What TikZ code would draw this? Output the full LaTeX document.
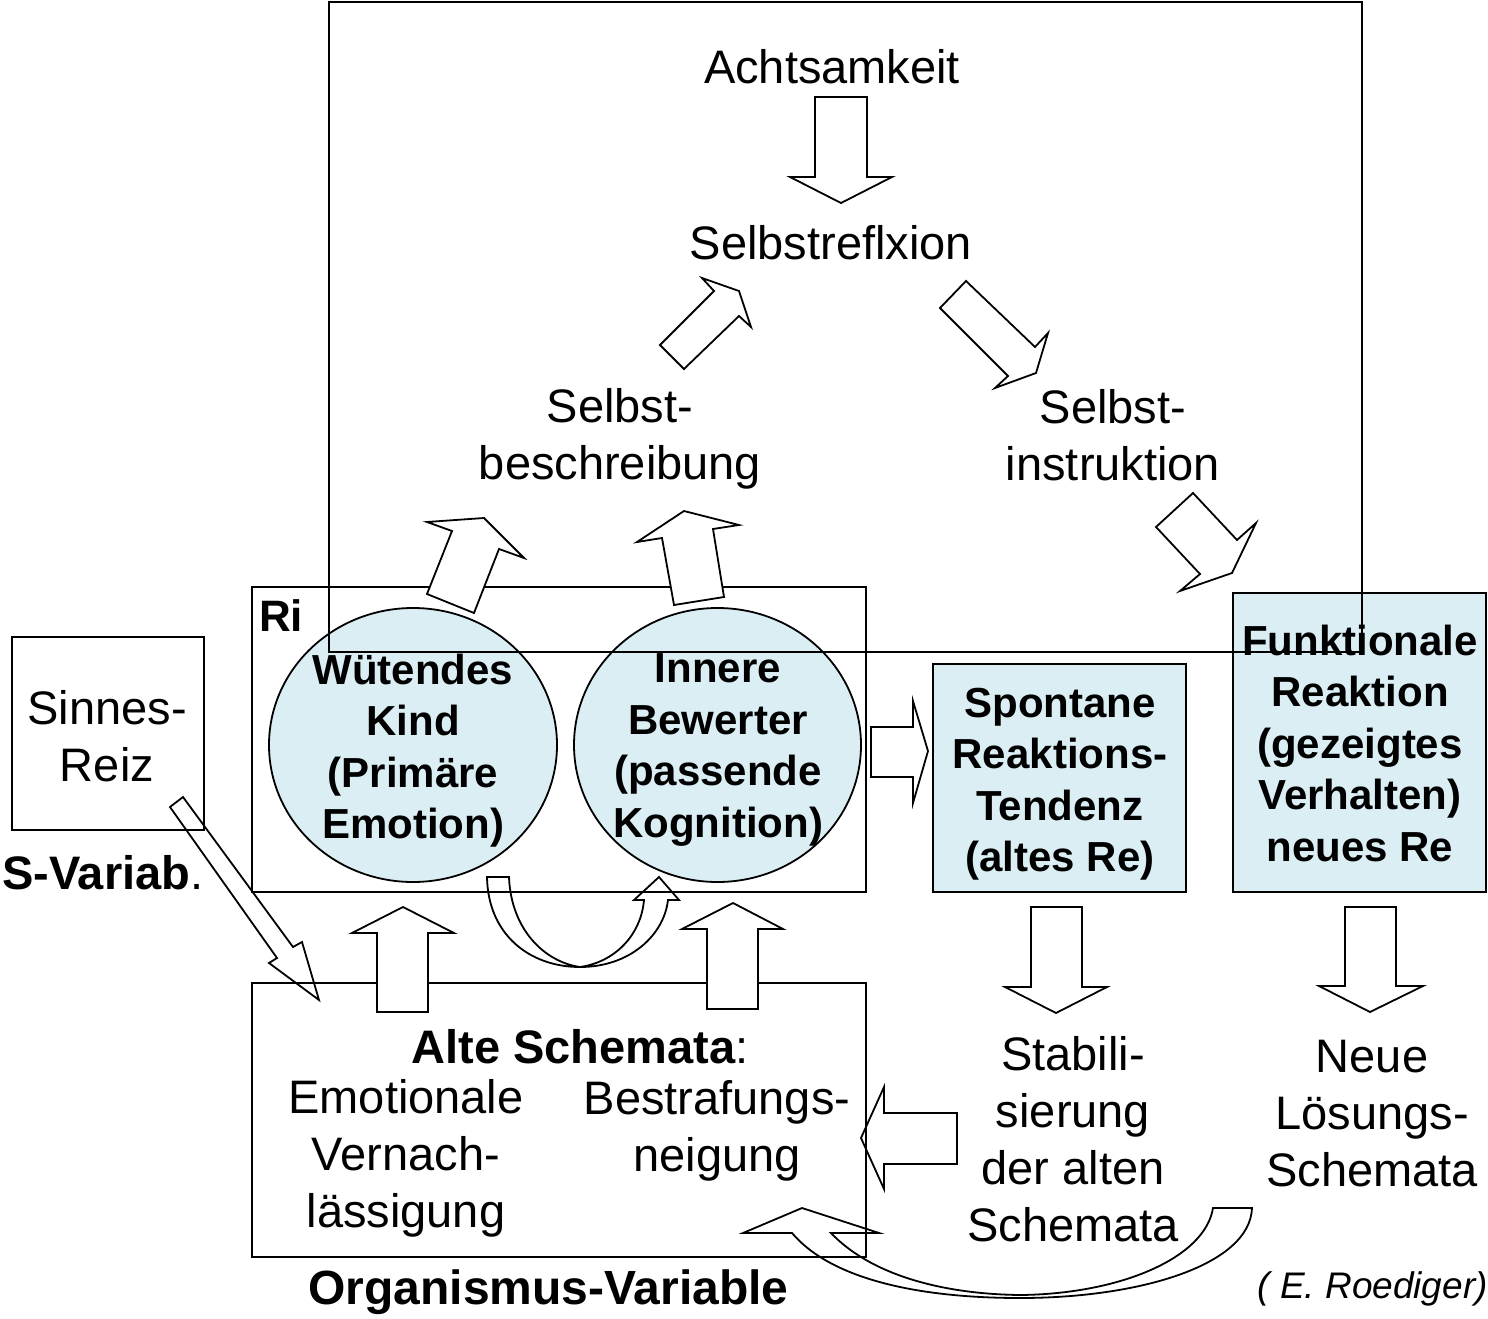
\documentclass[tikz,border=0pt]{standalone}
\usepackage{fontspec}
\setmainfont{Liberation Sans}
\usetikzlibrary{shapes.geometric}
\definecolor{lblue}{RGB}{218,238,243}
\tikzset{
  ln/.style={line width=1.8pt, line join=miter},
  blk/.style={ln, draw, fill=white},
  hol/.style={ln, draw},
  box/.style={ln, draw, inner sep=0pt},
  reg/.style={font=\fontsize{47}{57}\selectfont, align=center, inner sep=0pt},
  bld/.style={font=\fontsize{42}{51.5}\selectfont\bfseries, align=center, inner sep=0pt},
}
\begin{document}
\begin{tikzpicture}[x=1pt,y=-1pt]
\useasboundingbox (0,0) rectangle (1488,1319);

% boxes
\node[box, minimum width=192pt, minimum height=193pt] (sinnes) at (108,733.5) {};
\node[box, minimum width=614pt, minimum height=305pt] (ri) at (559,739.5) {};
\node[box, minimum width=614pt, minimum height=274pt] (alte) at (559,1120) {};
\node[box, fill=lblue, minimum width=253pt, minimum height=228pt] (spont) at (1059.5,778) {};
\node[box, fill=lblue, minimum width=253pt, minimum height=299pt] (funk) at (1359.5,742.5) {};

% circles
\node[ln, draw, fill=lblue, ellipse, inner sep=0pt, minimum width=288pt, minimum height=274pt] (kind) at (413,745) {};
\node[ln, draw, fill=lblue, ellipse, inner sep=0pt, minimum width=287pt, minimum height=274pt] (bew) at (717.5,745) {};

% texts
\node[reg] (achts) at (832,67) {Achtsamkeit};
\node[reg] (refl) at (831,243) {Selbstreflxion};
\node[reg] (beschr) at (620,439) {Selbst-\\beschreibung};
\node[reg] (instr) at (1113,435) {Selbst-\\instruktion};
\node[bld, anchor=west] (rilab) at (259,616) {\fontsize{44}{50}\selectfont Ri};
\node[bld] (kindt) at (413,750.5) {Wütendes\\Kind\\(Primäre\\Emotion)};
\node[bld] (bewt) at (718,750) {Innere\\Bewerter\\(passende\\Kognition)};
\node[reg] (sinnest) at (107,736) {Sinnes-\\Reiz};
\node[reg, anchor=west] (svar) at (2,873) {\textbf{S-Variab}.};
\node[bld] (spontt) at (1060,784) {Spontane\\Reaktions-\\Tendenz\\(altes Re)};
\node[bld] (funkt) at (1360,743) {Funktionale\\Reaktion\\(gezeigtes\\Verhalten)\\neues Re};
\node[reg] (altet) at (580,1047) {\textbf{Alte Schemata}:};
\node[reg] (emot) at (406,1158) {Emotionale\\Vernach-\\lässigung};
\node[reg] (bestr) at (717,1130.5) {Bestrafungs-\\neigung};
\node[reg] (stab) at (1073,1139.5) {Stabili-\\sierung\\der alten\\Schemata};
\node[reg] (neue) at (1372,1113.5) {Neue\\Lösungs-\\Schemata};
\node[inner sep=0pt, font=\fontsize{48}{54}\selectfont\bfseries] (org) at (548.5,1292) {Organismus-Variable};
\node[inner sep=0pt, anchor=base east, font=\fontsize{37}{42}\selectfont\itshape] (roed) at (1488,1298) {( E. Roediger)};

% block arrows
\draw[blk] (815,97) -- (867,97) -- (867,177) -- (892,177) -- (841,203) -- (790,177) -- (815,177) -- cycle;
\draw[blk] (660,345) -- (714,291) -- (702,278) -- (739,291) -- (751,327) -- (739,316) -- (684,369) -- cycle;
\draw[blk] (966,281) -- (1035,347) -- (1048,333) -- (1036,373) -- (995,388) -- (1008,376) -- (940,308) -- cycle;
\draw[blk] (1193,493) -- (1237,540) -- (1256,523) -- (1232,573) -- (1180,591) -- (1200,574) -- (1156,527) -- cycle;
\draw[blk] (427,522) -- (484,518) -- (524,558) -- (499,549) -- (474,613) -- (427,594) -- (452,531) -- cycle;
\draw[blk] (637,542) -- (684,511) -- (739,525) -- (713,529) -- (724,597) -- (674,605) -- (662,538) -- cycle;
\draw[blk] (871,727) -- (913,727) -- (913,701) -- (928,751) -- (913,803) -- (913,777) -- (871,777) -- cycle;
\draw[blk] (377,1012) -- (377,933) -- (352,933) -- (403,907) -- (454,933) -- (428,933) -- (428,1012) -- cycle;
\draw[blk] (707,1009) -- (707,929) -- (682,929) -- (733,903) -- (783,929) -- (758,929) -- (758,1009) -- cycle;
\draw[blk] (1031,907) -- (1082,907) -- (1082,987) -- (1107,987) -- (1056,1013) -- (1005,987) -- (1031,987) -- cycle;
\draw[blk] (1345,907) -- (1396,907) -- (1396,986) -- (1423,986) -- (1370,1012) -- (1319,986) -- (1345,986) -- cycle;
\draw[hol] (957,1113) -- (884,1113) -- (884,1087) -- (861,1138) -- (884,1189) -- (884,1164) -- (957,1164) -- cycle;
\draw[hol] (170,807) -- (183,797) -- (293,947) -- (302,942) -- (319,1000) -- (269,963) -- (277,958) -- cycle;

% curved U arrow between circles
\draw[hol] (487,877) -- (509,877)
  .. controls (511,930) and (545,962) .. (580,967)
  .. controls (615,962) and (641,935) .. (644,900)
  -- (634,900) -- (659,877) -- (679,900) -- (668,900)
  .. controls (664,935) and (630,967) .. (580,967)
  .. controls (530,967) and (488,935) .. cycle;

% bottom curved arrow
\draw[hol] (1213,1208) -- (1252,1208)
  .. controls (1250,1265) and (1140,1298) .. (1020,1298)
  .. controls (915,1298) and (830,1278) .. (792,1233)
  -- (743,1233) -- (802,1208) -- (879,1233) -- (831,1233)
  .. controls (870,1274) and (940,1294) .. (1020,1295)
  .. controls (1120,1294) and (1205,1258) .. cycle;

% big frame on top
\draw[ln] (329,2) rectangle (1362,652);
\end{tikzpicture}
\end{document}
